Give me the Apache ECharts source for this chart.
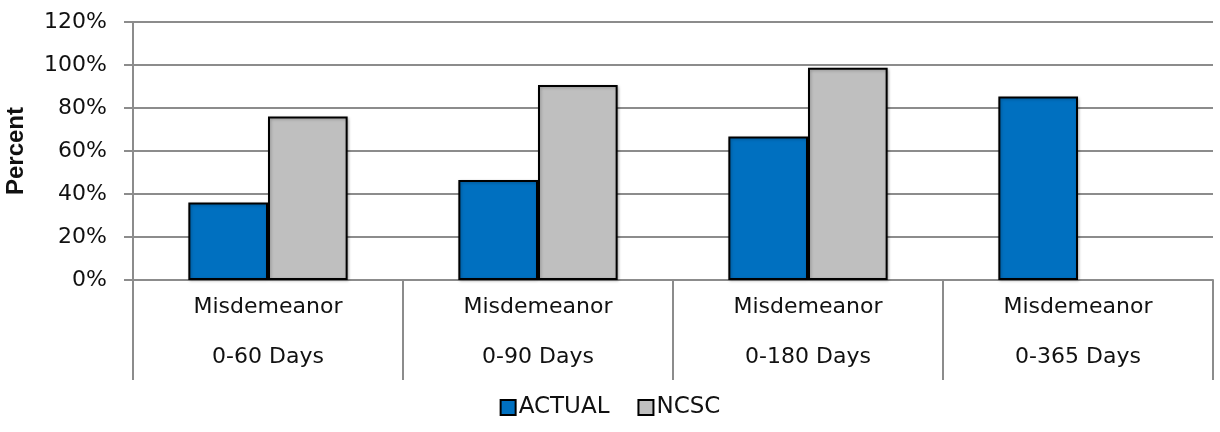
<!DOCTYPE html>
<html>
<head>
<meta charset="utf-8">
<script src="https://cdn.jsdelivr.net/npm/echarts@6/dist/echarts.min.js"></script>
<style>
  html, body { margin: 0; padding: 0; background: #fff; }
  #chart { width: 1220px; height: 432px; }
</style>
</head>
<body>
<div id="chart"></div>
<script>
// categories (two-line labels)
const categories = [
  'Misdemeanor\n0-60 Days',
  'Misdemeanor\n0-90 Days',
  'Misdemeanor\n0-180 Days',
  'Misdemeanor\n0-365 Days'
]
// percent values
const actualValues = [36, 46.5, 66.7, 85.3]
const ncscValues = [76, 90.7, 98.7, null]
const yTicks = [0, 20, 40, 60, 80, 100, 120]

const chart = echarts.init(document.getElementById('chart'))

const font = 'DejaVu Sans'
const gridColor = '#8c8c8c'

const option = {
  animation: false,
  textStyle: { fontFamily: font },
  grid: {
    left: 133,
    right: 7,
    top: 22,
    bottom: 152,
    outerBoundsMode: 'none'
  },
  legend: {
    data: ['ACTUAL', 'NCSC'],
    bottom: 8,
    left: 'center',
    itemWidth: 15,
    itemHeight: 15,
    itemGap: 28,
    icon: 'rect',
    textStyle: { fontSize: 23, color: '#111', fontFamily: font, padding: [0, 0, 0, -2] }
  },
  xAxis: {
    type: 'category',
    data: categories,
    axisLine: { lineStyle: { color: gridColor, width: 2 } },
    axisTick: { show: true, length: 100, lineStyle: { color: gridColor, width: 2 } },
    axisLabel: {
      fontSize: 22,
      color: '#111',
      lineHeight: 50,
      margin: 2,
      interval: 0
    }
  },
  yAxis: {
    type: 'value',
    min: yTicks[0],
    max: yTicks[yTicks.length - 1],
    interval: 20,
    name: 'Percent',
    nameLocation: 'middle',
    nameRotate: 90,
    nameGap: 105,
    nameTextStyle: {
      fontFamily: 'Liberation Sans',
      fontWeight: 'bold',
      fontSize: 24,
      color: '#111'
    },
    axisLine: { show: true, lineStyle: { color: gridColor, width: 2 } },
    axisTick: { show: true, length: 9, lineStyle: { color: gridColor, width: 2 } },
    axisLabel: {
      formatter: '{value}%',
      fontSize: 22,
      color: '#111',
      margin: 26
    },
    splitLine: { lineStyle: { color: gridColor, width: 2 } }
  },
  series: [
    {
      name: 'ACTUAL',
      type: 'bar',
      data: actualValues,
      barGap: 0,
      barCategoryGap: '41%',
      itemStyle: {
        color: '#0070c0',
        borderColor: '#000',
        borderWidth: 2,
        shadowColor: 'rgba(0,0,0,0.25)',
        shadowBlur: 3,
        shadowOffsetX: 1,
        shadowOffsetY: 1
      }
    },
    {
      name: 'NCSC',
      type: 'bar',
      data: ncscValues,
      itemStyle: {
        color: '#bfbfbf',
        borderColor: '#000',
        borderWidth: 2,
        shadowColor: 'rgba(0,0,0,0.25)',
        shadowBlur: 3,
        shadowOffsetX: 1,
        shadowOffsetY: 1
      }
    }
  ]
}

chart.setOption(option)
</script>
</body>
</html>
